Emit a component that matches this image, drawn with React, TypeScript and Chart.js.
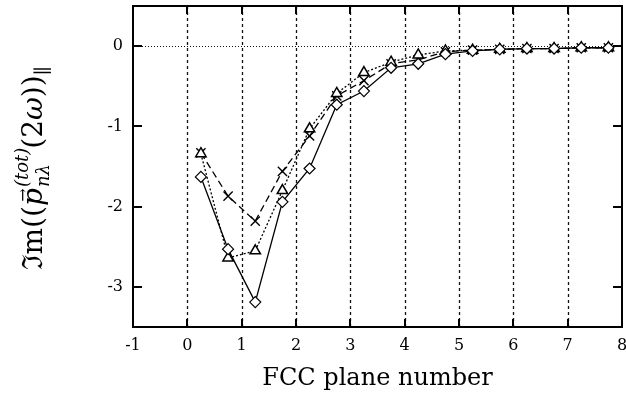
import { useEffect, useRef } from "react";
import { Chart, registerables } from "chart.js";

Chart.register(...registerables);

// Plane positions (FCC plane number) and the three computed series
const planes = [0.25, 0.75, 1.25, 1.75, 2.25, 2.75, 3.25, 3.75, 4.25, 4.75, 5.25, 5.75, 6.25, 6.75, 7.25, 7.75];
const diamondSeries = [-1.63, -2.53, -3.19, -1.94, -1.525, -0.73, -0.56, -0.27, -0.22, -0.1, -0.06, -0.04, -0.03, -0.03, -0.02, -0.02];
const triangleSeries = [-1.34, -2.64, -2.55, -1.8, -1.03, -0.59, -0.33, -0.2, -0.11, -0.06, -0.05, -0.04, -0.03, -0.03, -0.02, -0.02];
const crossSeries = [-1.33, -1.87, -2.18, -1.56, -1.12, -0.62, -0.43, -0.22, -0.17, -0.07, -0.05, -0.04, -0.03, -0.03, -0.02, -0.02];

const xTickValues = [-1, 0, 1, 2, 3, 4, 5, 6, 7, 8];
const yTickValues = [-3, -2, -1, 0];
const gridPlanes = [0, 1, 2, 3, 4, 5, 6, 7];
const xTitle = "FCC plane number";

const SERIF = '"DejaVu Serif", "Liberation Serif", serif';

function line(ctx: CanvasRenderingContext2D, x1: number, y1: number, x2: number, y2: number) {
  ctx.beginPath();
  ctx.moveTo(x1, y1);
  ctx.lineTo(x2, y2);
  ctx.stroke();
}

// Rotated y-axis label: Im((p_{nλ}^{(tot)}(2ω))_∥) with vector arrow over p
function drawYTitle(ctx: CanvasRenderingContext2D, cx: number, cy: number) {
  const main = `28px ${SERIF}`;
  const ital = `italic 28px ${SERIF}`;
  const small = `italic 18px ${SERIF}`;
  const smallUp = `19px ${SERIF}`;
  const arrowFont = `16px ${SERIF}`;

  type Run = { t: string; f: string; dy: number; group?: Run[] };
  const runs: Run[] = [
    { t: "ℑm((", f: main, dy: 0 },
    { t: "p", f: ital, dy: 0 },
    {
      t: "",
      f: small,
      dy: 0,
      group: [
        { t: "(tot)", f: small, dy: -14 },
        { t: "nλ", f: small, dy: 7 },
      ],
    },
    { t: "(2", f: main, dy: 0 },
    { t: "ω", f: ital, dy: 0 },
    { t: "))", f: main, dy: 0 },
    { t: "∥", f: smallUp, dy: 7 },
  ];

  const width = (r: Run) => {
    if (r.group) {
      return Math.max(
        ...r.group.map((g) => {
          ctx.font = g.f;
          return ctx.measureText(g.t).width;
        })
      );
    }
    ctx.font = r.f;
    return ctx.measureText(r.t).width;
  };

  const total = runs.reduce((s, r) => s + width(r), 0);

  ctx.save();
  ctx.translate(cx, cy);
  ctx.rotate(-Math.PI / 2);
  ctx.fillStyle = "#000";
  ctx.textBaseline = "alphabetic";
  ctx.textAlign = "left";
  let x = -total / 2;
  for (const r of runs) {
    const w = width(r);
    if (r.group) {
      for (const g of r.group) {
        ctx.font = g.f;
        ctx.fillText(g.t, x + 1, g.dy);
      }
    } else {
      ctx.font = r.f;
      ctx.fillText(r.t, x, r.dy);
      if (r.t === "p") {
        ctx.font = arrowFont;
        const aw = ctx.measureText("→").width;
        ctx.fillText("→", x + w / 2 - aw / 2 + 2, -14);
      }
    }
    x += w;
  }
  ctx.restore();
}

const framePlugin = {
  id: "frame",
  beforeDatasetsDraw(chart: Chart) {
    const { ctx, chartArea: a } = chart;
    const xs = chart.scales.x;
    const ys = chart.scales.y;
    ctx.save();
    ctx.strokeStyle = "#111";
    ctx.lineWidth = 1.3;
    ctx.setLineDash([3, 3]);
    for (const v of gridPlanes) {
      const px = Math.round(xs.getPixelForValue(v)) + 0.5;
      line(ctx, px, a.top, px, a.bottom);
    }
    ctx.setLineDash([1, 2]);
    ctx.lineWidth = 1;
    const y0 = Math.round(ys.getPixelForValue(0)) + 0.5;
    line(ctx, a.left, y0, a.right, y0);
    ctx.restore();
  },
  afterDatasetsDraw(chart: Chart) {
    const { ctx, chartArea: a } = chart;
    const xs = chart.scales.x;
    const ys = chart.scales.y;
    ctx.save();
    ctx.strokeStyle = "#000";
    ctx.lineWidth = 2;
    ctx.setLineDash([]);
    ctx.strokeRect(a.left, a.top, a.right - a.left, a.bottom - a.top);
    for (const v of yTickValues) {
      const py = Math.round(ys.getPixelForValue(v));
      line(ctx, a.left, py, a.left + 9, py);
      line(ctx, a.right, py, a.right - 9, py);
    }
    for (const v of xTickValues) {
      const px = Math.round(xs.getPixelForValue(v));
      line(ctx, px, a.bottom, px, a.bottom - 8);
      line(ctx, px, a.top, px, a.top + 8);
    }
    ctx.restore();
  },
  afterDraw(chart: Chart) {
    const a = chart.chartArea;
    drawYTitle(chart.ctx, 42, (a.top + a.bottom) / 2 + 2);
  },
};

export default function App() {
  const canvasRef = useRef<HTMLCanvasElement | null>(null);

  useEffect(() => {
    const canvas = canvasRef.current;
    if (!canvas) return;
    const pts = (vals: number[]) => planes.map((x, i) => ({ x, y: vals[i] }));

    const chart = new Chart(canvas, {
      type: "line",
      data: {
        datasets: [
          {
            data: pts(diamondSeries),
            borderColor: "#000",
            borderWidth: 1.3,
            pointStyle: "rectRot",
            pointRadius: 5.5,
            pointBackgroundColor: "#fff",
            pointBorderColor: "#000",
            pointBorderWidth: 1.2,
            tension: 0,
            fill: false,
          },
          {
            data: pts(triangleSeries),
            borderColor: "#000",
            borderWidth: 1.3,
            borderDash: [2, 2],
            pointStyle: "triangle",
            pointRadius: 6,
            pointBackgroundColor: "#fff",
            pointBorderColor: "#000",
            pointBorderWidth: 1.5,
            tension: 0,
            fill: false,
          },
          {
            data: pts(crossSeries),
            borderColor: "#000",
            borderWidth: 1.3,
            borderDash: [7, 4],
            pointStyle: "crossRot",
            pointRadius: 6.5,
            pointBorderColor: "#000",
            pointBorderWidth: 1.4,
            tension: 0,
            fill: false,
          },
        ],
      },
      options: {
        responsive: false,
        maintainAspectRatio: false,
        devicePixelRatio: 1,
        animation: false,
        layout: { autoPadding: false, padding: { top: 6, right: 4, left: 0, bottom: 0 } },
        plugins: { legend: { display: false }, tooltip: { enabled: false } },
        scales: {
          x: {
            type: "linear",
            min: -1,
            max: 8,
            afterBuildTicks: (s: any) => {
              s.ticks = xTickValues.map((value) => ({ value }));
            },
            afterFit: (s: any) => {
              s.height = 70;
              s.paddingLeft = 0;
              s.paddingRight = 0;
            },
            grid: { display: false, drawTicks: false },
            border: { display: false },
            ticks: {
              color: "#000",
              padding: 9,
              font: { family: SERIF, size: 16 },
              callback: (v: any) => String(v),
            },
            title: {
              display: true,
              text: xTitle,
              color: "#000",
              font: { family: SERIF, size: 24 },
              padding: { top: 0, bottom: 4 },
            },
          },
          y: {
            type: "linear",
            min: -3.5,
            max: 0.5,
            afterBuildTicks: (s: any) => {
              s.ticks = yTickValues.map((value) => ({ value }));
            },
            afterFit: (s: any) => {
              s.width = 133;
              s.paddingTop = 0;
              s.paddingBottom = 0;
            },
            grid: { display: false, drawTicks: false },
            border: { display: false },
            ticks: {
              color: "#000",
              padding: 10,
              font: { family: SERIF, size: 16 },
              callback: (v: any) => String(v),
            },
          },
        },
      },
      plugins: [framePlugin],
    });

    return () => chart.destroy();
  }, []);

  return (
    <div style={{ position: "absolute", left: 0, top: 0, width: 626, height: 397, background: "#fff" }}>
      <canvas ref={canvasRef} width={626} height={397} style={{ display: "block" }} />
    </div>
  );
}
